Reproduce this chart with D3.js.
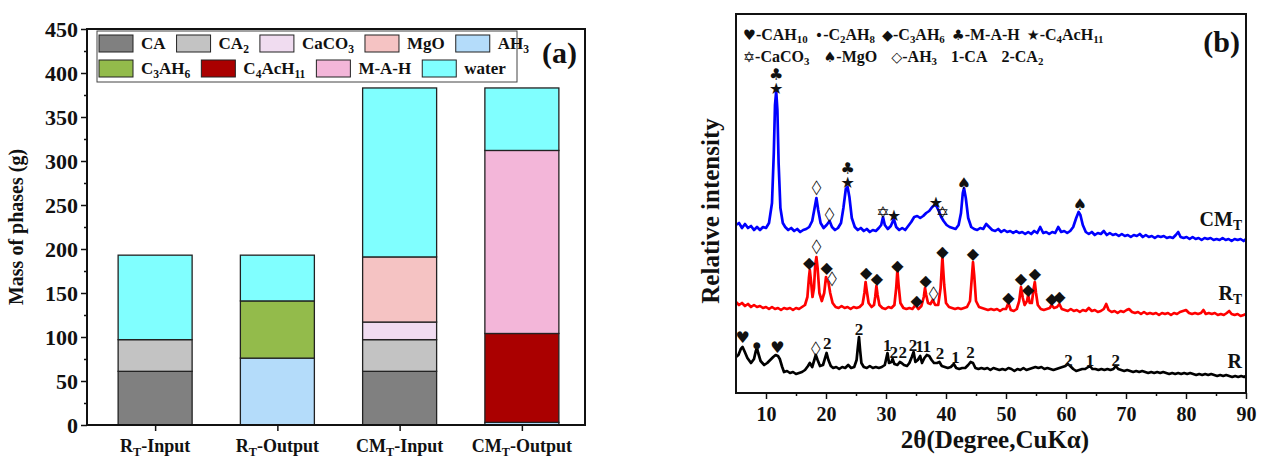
<html>
<head>
<style>
  body { margin: 0; background: #fff; }
  text { font-family: "Liberation Serif", "Times New Roman", serif; font-weight: bold; fill: #111; }
  .sym { font-family: "DejaVu Sans", sans-serif; font-weight: normal; }
</style>
</head>
<body>
<div id="chart"></div>
<script src="https://cdnjs.cloudflare.com/ajax/libs/d3/7.8.5/d3.min.js"></script>
<script>
// ---- panel (a) data ----
var categories = ["R{T}-Input", "R{T}-Output", "CM{T}-Input", "CM{T}-Output"];
var phases = ["CA", "CA{2}", "CaCO{3}", "MgO", "AH{3}", "C{3}AH{6}", "C{4}AcH{11}", "M-A-H", "water"];
var phaseColors = ["#808080", "#c3c3c3", "#f0dcf0", "#f5c3c3", "#b4dcfa", "#93bb4b", "#aa0000", "#f3b6d9", "#80ffff"];
var massCA      = [61, 0, 61, 0];
var massCA2     = [36, 0, 36, 0];
var massCaCO3   = [0, 0, 20, 0];
var massMgO     = [0, 0, 74, 0];
var massAH3     = [0, 76, 0, 3];
var massC3AH6   = [0, 65, 0, 0];
var massC4AcH11 = [0, 0, 0, 101];
var massMAH     = [0, 0, 0, 208];
var massWater   = [96, 52, 192, 71];
var massTicks = [0, 50, 100, 150, 200, 250, 300, 350, 400, 450];

// ---- panel (b) data: [2theta, relative intensity incl. stacking offset] ----
var cmT = [[5,168],[5.5,170],[6,165],[6.5,169],[7,165],[7.5,167],[8,163],[8.5,166],[9,163],[9.5,166],[10,165],[10.5,170],[11,190],[11.3,240],[11.5,288],[11.7,302],[11.9,283],[12.1,230],[12.4,185],[12.8,170],[13.2,166],[13.7,163],[14.2,165],[14.7,162],[15.2,164],[15.7,161],[16.2,163],[16.7,164],[17.2,166],[17.7,172],[18.1,185],[18.4,195],[18.7,183],[19.1,170],[19.6,165],[20.1,168],[20.6,172],[21,166],[21.5,163],[22,165],[22.5,170],[22.9,185],[23.3,204],[23.6,206],[23.9,196],[24.3,175],[24.8,166],[25.3,163],[25.8,165],[26.3,162],[26.8,164],[27.3,161],[27.8,163],[28.3,162],[28.8,165],[29.2,168],[29.5,176],[29.8,168],[30.3,164],[30.8,167],[31.3,174],[31.7,166],[32.2,163],[32.7,165],[33.2,163],[33.7,167],[34.2,171],[34.7,176],[35.2,177],[35.7,175],[36.2,177],[36.7,180],[37.2,182],[37.7,186],[38.1,188],[38.4,187],[38.8,182],[39.2,176],[39.6,172],[40.1,168],[40.6,166],[41.1,165],[41.6,164],[42.1,168],[42.5,180],[42.8,200],[43,205],[43.3,195],[43.7,175],[44.2,166],[44.7,164],[45.2,163],[45.7,165],[46.2,164],[46.7,169],[47.2,166],[47.7,163],[48.2,162],[48.7,164],[49.2,161],[49.7,163],[50.2,161],[50.7,162],[51.2,160],[51.7,162],[52.2,160],[52.7,161],[53.2,159],[53.7,161],[54.2,159],[54.7,162],[55.2,160],[55.7,166],[56.2,160],[56.7,161],[57.2,159],[57.7,161],[58.2,160],[58.7,166],[59.2,161],[59.7,162],[60.2,160],[60.7,162],[61.2,166],[61.7,175],[62.1,181],[62.4,178],[62.8,168],[63.3,161],[63.8,159],[64.3,161],[64.8,158],[65.3,160],[65.8,159],[66.3,162],[66.8,158],[67.3,160],[67.8,158],[68.3,159],[68.8,157],[69.3,159],[69.8,157],[70.3,158],[70.8,156],[71.3,158],[71.8,157],[72.3,159],[72.8,156],[73.3,158],[73.8,156],[74.3,157],[74.8,155],[75.3,157],[75.8,156],[76.3,157],[76.8,155],[77.3,156],[77.8,155],[78.3,158],[78.7,161],[79.1,156],[79.6,155],[80.1,156],[80.6,154],[81.1,156],[81.6,154],[82.1,155],[82.6,153],[83.1,155],[83.6,154],[84.1,155],[84.6,153],[85.1,154],[85.6,153],[86.1,155],[86.6,153],[87.1,154],[87.6,152],[88.1,154],[88.6,153],[89.1,154],[89.6,152],[90,154]];

var rT = [[5,91],[5.5,88],[6,90],[6.5,87],[7,89],[7.5,86],[8,88],[8.5,86],[9,87],[9.5,85],[10,86],[10.5,84],[11,86],[11.5,84],[12,85],[12.5,83],[13,85],[13.5,84],[14,85],[14.5,83],[15,85],[15.5,84],[16,86],[16.5,88],[16.9,96],[17.15,115],[17.3,123],[17.5,112],[17.75,96],[18,105],[18.2,128],[18.4,136],[18.6,125],[18.9,100],[19.3,92],[19.7,100],[20,116],[20.2,112],[20.4,111],[20.7,100],[21.1,90],[21.6,86],[22.1,85],[22.6,87],[23.1,85],[23.6,86],[24.1,84],[24.6,86],[25.1,85],[25.6,86],[26.1,89],[26.4,100],[26.6,111],[26.8,102],[27.1,90],[27.6,86],[28,88],[28.2,96],[28.4,107],[28.6,98],[28.9,88],[29.4,85],[29.9,84],[30.4,86],[30.9,85],[31.4,88],[31.7,105],[31.9,123],[32.1,108],[32.4,90],[32.9,85],[33.4,84],[33.9,85],[34.4,84],[34.9,88],[35.4,84],[35.9,87],[36.3,96],[36.5,105],[36.7,98],[37,90],[37.4,89],[37.8,93],[38.2,88],[38.7,88],[39.1,105],[39.4,136],[39.7,108],[40,90],[40.5,86],[41,85],[41.5,84],[42,85],[42.5,84],[43,85],[43.5,86],[44,92],[44.3,115],[44.5,131],[44.7,118],[45,92],[45.5,86],[46,85],[46.5,84],[47,83],[47.5,84],[48,83],[48.5,84],[49,82],[49.5,84],[50,84],[50.4,90],[50.8,83],[51.3,82],[51.8,84],[52.2,92],[52.5,106],[52.8,95],[53.1,88],[53.5,92],[53.7,98],[53.95,90],[54.3,90],[54.6,104],[54.8,111],[55,100],[55.3,88],[55.8,84],[56.3,83],[56.8,84],[57.3,85],[57.6,88],[58,85],[58.5,86],[58.9,89],[59.3,84],[59.8,83],[60.3,82],[60.8,84],[61.3,82],[61.8,83],[62.3,81],[62.8,83],[63.3,82],[63.8,85],[64.3,82],[64.8,83],[65.3,81],[65.8,82],[66.3,84],[66.7,89],[67.1,83],[67.6,81],[68.1,82],[68.6,80],[69.1,82],[69.6,81],[70.1,83],[70.5,84],[71,81],[71.5,80],[72,81],[72.5,79],[73,81],[73.5,79],[74,80],[74.5,79],[75,80],[75.5,78],[76,80],[76.5,79],[77,80],[77.5,78],[78,80],[78.5,79],[79,81],[79.5,82],[80,83],[80.5,80],[81,79],[81.5,80],[82,79],[82.5,80],[82.9,83],[83.3,79],[83.8,80],[84.3,79],[84.8,80],[85.3,78],[85.8,79],[86.3,78],[86.8,80],[87.2,82],[87.6,79],[88.1,78],[88.6,79],[89.1,77],[89.6,78],[90,79]];

var rRaw = [[5,36],[5.4,38],[5.8,44],[6.1,46],[6.4,42],[6.9,35],[7.5,30],[8,34],[8.3,42],[8.5,45],[8.7,40],[9.1,32],[9.7,28],[10.2,30],[10.7,33],[11.2,36],[11.6,38],[12,37],[12.3,34],[12.7,26],[13,21],[13.5,22],[14,20],[14.5,21],[15,19],[15.5,20],[16,21],[16.5,23],[17,27],[17.3,30],[17.7,26],[18,32],[18.3,38],[18.6,33],[19,27],[19.5,28],[19.8,34],[20.1,40],[20.4,33],[20.8,27],[21.2,25],[21.7,26],[22.2,24],[22.7,26],[23.2,25],[23.7,28],[24.2,25],[24.7,26],[25.1,33],[25.3,45],[25.5,56],[25.7,42],[25.9,30],[26.3,26],[26.8,25],[27.3,27],[27.8,25],[28.3,26],[28.8,25],[29.3,26],[29.8,28],[30.1,36],[30.25,40],[30.5,30],[30.9,31],[31.1,34],[31.4,29],[31.9,28],[32.3,31],[32.6,30],[33,28],[33.5,27],[33.9,30],[34.3,36],[34.6,41],[34.9,31],[35.3,33],[35.7,37],[36,30],[36.4,35],[36.8,38],[37.2,37],[37.6,33],[38,30],[38.5,30],[38.9,31],[39.3,27],[39.8,26],[40.3,25],[40.8,26],[41.3,29],[41.7,25],[42.2,24],[42.7,25],[43.2,25],[43.7,28],[44.1,31],[44.5,30],[44.9,25],[45.4,24],[45.9,25],[46.4,24],[46.9,25],[47.4,23],[47.9,25],[48.4,24],[48.9,23],[49.4,24],[49.9,23],[50.4,25],[50.9,24],[51.4,22],[51.9,24],[52.4,23],[52.9,25],[53.4,23],[53.9,24],[54.4,25],[54.9,26],[55.4,25],[55.9,26],[56.4,24],[56.9,25],[57.4,24],[57.9,23],[58.4,24],[58.9,25],[59.4,26],[59.9,27],[60.3,29],[60.7,27],[61.2,24],[61.7,22],[62.2,23],[62.7,24],[63.2,24],[63.7,26],[64,27],[64.4,24],[64.9,24],[65.4,23],[65.9,24],[66.4,23],[66.9,24],[67.4,23],[67.9,24],[68.3,27],[68.7,24],[69.2,23],[69.7,22],[70.2,23],[70.7,22],[71.2,21],[71.7,22],[72.2,21],[72.7,22],[73.2,21],[73.7,20],[74.2,21],[74.7,20],[75.2,21],[75.7,20],[76.2,21],[76.7,20],[77.2,19],[77.7,20],[78.2,19],[78.7,20],[79.2,19],[79.7,20],[80.2,19],[80.7,20],[81.2,19],[81.7,18],[82.2,19],[82.7,18],[83.2,19],[83.7,18],[84.2,19],[84.7,18],[85.2,17],[85.7,18],[86.2,17],[86.7,18],[87.2,17],[87.7,16],[88.2,17],[88.7,16],[89.2,17],[89.7,16],[90,17]];

// peak marks: [2theta, intensity, glyph]
var cmTMarks = [[11.7,319,"♣"],[11.7,305,"★"],[18.4,207,"◇"],[20.6,180,"◇"],[23.6,225,"♣"],[23.6,211,"★"],[29.5,181,"✡"],[31.3,178,"★"],[38.3,191,"★"],[39.4,181,"✡"],[43.0,210,"♠"],[62.3,189,"♠"]];
var rTMarks = [[17.2,131,"◆"],[18.4,148,"◇"],[20.1,126,"◆"],[21.0,116,"◇"],[26.7,121,"◆"],[28.5,115,"◆"],[31.9,128,"◆"],[35.1,93,"◆"],[36.6,113,"◆"],[37.9,101,"◇"],[39.4,142,"◆"],[44.5,140,"◆"],[50.4,96,"◆"],[52.5,115,"◆"],[53.7,104,"◆"],[54.8,120,"◆"],[57.6,95,"◆"],[58.9,97,"◆"]];
var rMarks = [[6.1,56,"♥"],[8.5,48,"●"],[11.9,46,"♥"],[18.3,46,"◇"],[20.2,50,"2"],[25.5,64,"2"],[30.2,48,"1"],[31.3,41,"2"],[32.8,41,"2"],[34.5,48,"2"],[35.6,47,"1"],[36.8,47,"1"],[39.0,40,"2"],[41.6,36,"1"],[44.1,41,"2"],[60.4,33,"2"],[64.0,33,"1"],[68.3,33,"2"]];
var curveNames = ["CM{T}", "R{T}", "R"];
var curveLabelY = [167, 93, 25];
var twoThetaTicks = [10, 20, 30, 40, 50, 60, 70, 80, 90];
var legendRow1 = ["♥-CAH{10}", "•-C{2}AH{8}", "◆-C{3}AH{6}", "♣-M-A-H", "★-C{4}AcH{11}"];
var legendRow2 = ["✡-CaCO{3}", "♠-MgO", "◇-AH{3}", "1-CA", "2-CA{2}"];

var W = 1266, H = 470;
var svg = d3.select("#chart").append("svg").attr("width", W).attr("height", H);

var symbols = "♥•●◆♣★✡♠◇";
// writes "C{3}AH{6}" as text with subscripts; special glyphs use DejaVu
function richText(t, str) {
  var parts = str.split(/(\{[^}]*\}|[♥•●◆♣★✡♠◇])/).filter(function(s) { return s.length; });
  var down = false;
  parts.forEach(function(p) {
    var ts = t.append("tspan");
    if (p[0] === "{") {
      ts.text(p.slice(1, -1)).attr("font-size", "0.68em").attr("dy", down ? null : "0.32em");
      down = true;
    } else {
      if (down) ts.attr("dy", "-0.22em");
      down = false;
      ts.text(p);
      if (symbols.indexOf(p) >= 0) ts.attr("class", "sym").attr("font-size", "0.9em");
    }
  });
  return t;
}

// ================= panel (a) =================
var A = {l: 87, r: 585, t: 29, b: 425};
var xA = d3.scalePoint().domain(categories).range([94, 583]).padding(0.5);
var yA = d3.scaleLinear().domain([0, 450]).range([A.b, A.t]);
var color = d3.scaleOrdinal().domain(phases).range(phaseColors);

var series = [massCA, massCA2, massCaCO3, massMgO, massAH3, massC3AH6, massC4AcH11, massMAH, massWater];
var rows = categories.map(function(c, i) {
  var o = {cat: c};
  phases.forEach(function(p, j) { o[p] = series[j][i]; });
  return o;
});
var stacked = d3.stack().keys(phases)(rows);

var gA = svg.append("g");
gA.selectAll("g.layer").data(stacked).enter().append("g")
  .attr("fill", function(d) { return color(d.key); })
  .selectAll("rect").data(function(d) { return d.filter(function(s) { return s[1] > s[0]; }); })
  .enter().append("rect")
  .attr("x", function(d) { return xA(d.data.cat) - 37; })
  .attr("width", 74)
  .attr("y", function(d) { return yA(d[1]); })
  .attr("height", function(d) { return yA(d[0]) - yA(d[1]); })
  .attr("stroke", "#222").attr("stroke-width", 1.3);

// axes
var yAxA = gA.append("g").attr("transform", "translate(" + A.l + ",0)")
  .call(d3.axisLeft(yA).tickValues(massTicks).tickSize(6).tickPadding(3));
yAxA.selectAll("text").attr("font-size", 22).style("font-weight", "bold");
gA.append("g").attr("transform", "translate(" + A.l + ",0)")
  .call(d3.axisLeft(yA).tickValues(d3.range(25, 450, 50)).tickSize(3).tickFormat(""));
gA.append("g").attr("transform", "translate(0," + A.b + ")")
  .call(d3.axisBottom(xA).tickSize(6).tickFormat(""));
gA.selectAll(".domain").remove();
gA.selectAll(".tick line").attr("stroke", "#111").attr("stroke-width", 1.5);
gA.append("rect").attr("x", A.l).attr("y", A.t).attr("width", A.r - A.l).attr("height", A.b - A.t)
  .attr("fill", "none").attr("stroke", "#111").attr("stroke-width", 2);

categories.forEach(function(c) {
  richText(gA.append("text").attr("x", xA(c)).attr("y", 452).attr("text-anchor", "middle").attr("font-size", 18), c);
});
gA.append("text").attr("transform", "translate(23," + ((A.t + A.b) / 2) + ") rotate(-90)")
  .attr("text-anchor", "middle").attr("font-size", 20).text("Mass of phases (g)");
gA.append("text").attr("x", 577).attr("y", 63).attr("text-anchor", "end").attr("font-size", 30).text("(a)");

// legend (a)
var legA = gA.append("g");
legA.append("rect").attr("x", 97).attr("y", 31).attr("width", 420).attr("height", 51)
  .attr("fill", "#fff").attr("stroke", "#444").attr("stroke-width", 1);
[[0, 5, 43], [5, 9, 68]].forEach(function(row) {
  var cx = 99;
  phases.slice(row[0], row[1]).forEach(function(p) {
    legA.append("rect").attr("x", cx).attr("y", row[2] - 8).attr("width", 34).attr("height", 17)
      .attr("fill", color(p)).attr("stroke", "#222").attr("stroke-width", 1);
    var t = richText(legA.append("text").attr("x", cx + 42).attr("y", row[2] + 6).attr("font-size", 17), p);
    cx += 42 + t.node().getComputedTextLength() + 11;
  });
});

// ================= panel (b) =================
var B = {l: 736, r: 1246, t: 14, b: 393};
var xB = d3.scaleLinear().domain([5, 90]).range([B.l, B.r]);
var yB = d3.scaleLinear().domain([0, 379]).range([B.b, B.t]);
var gB = svg.append("g");

var line = d3.line().x(function(d) { return xB(d[0]); }).y(function(d) { return yB(d[1]); });
[[rRaw, "#000"], [rT, "#ff0000"], [cmT, "#0000ff"]].forEach(function(c) {
  gB.append("path").datum(c[0]).attr("d", line).attr("fill", "none")
    .attr("stroke", c[1]).attr("stroke-width", 2.7).attr("stroke-linejoin", "round");
});

function glyphSize(g) {
  if (/[0-9]/.test(g)) return 17;
  if (g === "◇") return 20;
  if (g === "●") return 9;
  return 16;
}
function drawMarks(marks) {
  gB.selectAll(null).data(marks).enter().append("text")
    .attr("transform", function(d) {
      var s = d[2] === "◇" ? " scale(0.62,1)" : "";
      return "translate(" + xB(d[0]) + "," + yB(d[1]) + ")" + s;
    })
    .attr("dy", "0.36em")
    .attr("text-anchor", "middle")
    .attr("class", function(d) { return /[0-9]/.test(d[2]) ? null : "sym"; })
    .attr("font-size", function(d) { return glyphSize(d[2]); })
    .text(function(d) { return d[2]; });
}
drawMarks(cmTMarks);
drawMarks(rTMarks);
drawMarks(rMarks);

curveNames.forEach(function(n, i) {
  richText(gB.append("text").attr("x", 1242).attr("y", yB(curveLabelY[i])).attr("text-anchor", "end").attr("font-size", 20), n);
});

var xAxB = gB.append("g").attr("transform", "translate(0," + B.b + ")")
  .call(d3.axisBottom(xB).tickValues(twoThetaTicks).tickSize(6).tickPadding(8));
xAxB.selectAll("text").attr("font-size", 20).style("font-weight", "bold");
gB.append("g").attr("transform", "translate(0," + B.b + ")")
  .call(d3.axisBottom(xB).tickValues(d3.range(15, 90, 10)).tickSize(3).tickFormat(""));
gB.selectAll(".domain").remove();
gB.selectAll(".tick line").attr("stroke", "#111").attr("stroke-width", 1.5);
gB.append("rect").attr("x", B.l).attr("y", B.t).attr("width", B.r - B.l).attr("height", B.b - B.t)
  .attr("fill", "none").attr("stroke", "#111").attr("stroke-width", 2);

gB.append("text").attr("x", 995).attr("y", 448).attr("text-anchor", "middle").attr("font-size", 25).text("2θ(Degree,CuKα)");
gB.append("text").attr("transform", "translate(719,211) rotate(-90)")
  .attr("text-anchor", "middle").attr("font-size", 25).text("Relative intensity");
gB.append("text").attr("x", 1240).attr("y", 52).attr("text-anchor", "end").attr("font-size", 30).text("(b)");

[[legendRow1, 40, 7], [legendRow2, 62, 14]].forEach(function(row) {
  var cx = 743;
  row[0].forEach(function(s) {
    var t = richText(gB.append("text").attr("x", cx).attr("y", row[1]).attr("font-size", 16), s);
    cx += t.node().getComputedTextLength() + row[2];
  });
});
</script>
</body>
</html>
